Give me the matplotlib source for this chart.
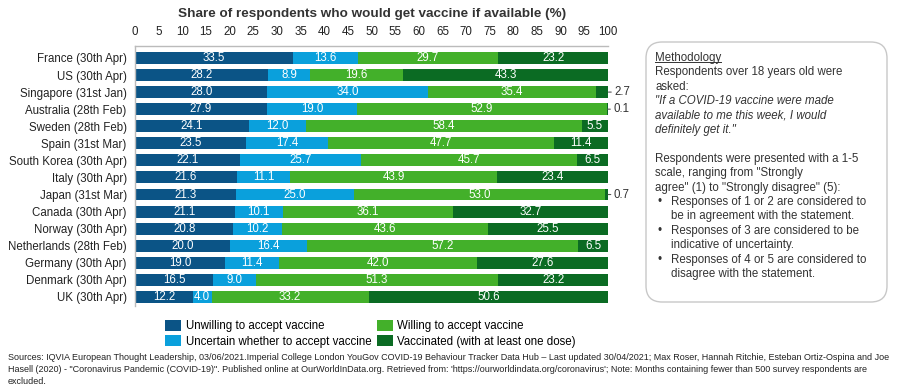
import matplotlib.pyplot as plt
from matplotlib.patches import FancyBboxPatch, Patch
from matplotlib.lines import Line2D

plt.rcParams['font.family'] = ['Liberation Sans', 'DejaVu Sans']

# ---------------------------------------------------------------------------
# data
# ---------------------------------------------------------------------------
countries = ["France (30th Apr)", "US (30th Apr)", "Singapore (31st Jan)",
             "Australia (28th Feb)", "Sweden (28th Feb)", "Spain (31st Mar)",
             "South Korea (30th Apr)", "Italy (30th Apr)", "Japan (31st Mar)",
             "Canada (30th Apr)", "Norway (30th Apr)", "Netherlands (28th Feb)",
             "Germany (30th Apr)", "Denmark (30th Apr)", "UK (30th Apr)"]
unwilling = [33.5, 28.2, 28.0, 27.9, 24.1, 23.5, 22.1, 21.6, 21.3, 21.1, 20.8, 20.0, 19.0, 16.5, 12.2]
uncertain = [13.6, 8.9, 34.0, 19.0, 12.0, 17.4, 25.7, 11.1, 25.0, 10.1, 10.2, 16.4, 11.4, 9.0, 4.0]
willing = [29.7, 19.6, 35.4, 52.9, 58.4, 47.7, 45.7, 43.9, 53.0, 36.1, 43.6, 57.2, 42.0, 51.3, 33.2]
vaccinated = [23.2, 43.3, 2.7, 0.1, 5.5, 11.4, 6.5, 23.4, 0.7, 32.7, 25.5, 6.5, 27.6, 23.2, 50.6]

series_names = ["Unwilling to accept vaccine", "Uncertain whether to accept vaccine",
                "Willing to accept vaccine", "Vaccinated (with at least one dose)"]
colors = ["#0b5486", "#0aa0dc", "#43b02a", "#0b6b23"]

title = "Share of respondents who would get vaccine if available (%)"

method_lines = [
    ("Methodology", "normal"),
    ("Respondents over 18 years old were", "normal"),
    ("asked:", "normal"),
    ('"If a COVID-19 vaccine were made', "italic"),
    ("available to me this week, I would", "italic"),
    ('definitely get it."', "italic"),
    ("", "normal"),
    ("Respondents were presented with a 1-5", "normal"),
    ('scale, ranging from "Strongly', "normal"),
    ('agree" (1) to "Strongly disagree" (5):', "normal"),
]
bullets = [
    ["Responses of 1 or 2 are considered to", "be in agreement with the statement."],
    ["Responses of 3 are considered to be", "indicative of uncertainty."],
    ["Responses of 4 or 5 are considered to", "disagree with the statement."],
]

source_lines = [
    "Sources: IQVIA European Thought Leadership, 03/06/2021.Imperial College London YouGov COVID-19 Behaviour Tracker Data Hub \u2013 Last updated 30/04/2021; Max Roser, Hannah Ritchie, Esteban Ortiz-Ospina and Joe",
    "Hasell (2020) - \"Coronavirus Pandemic (COVID-19)\". Published online at OurWorldInData.org. Retrieved from: 'https://ourworldindata.org/coronavirus'; Note: Months containing fewer than 500 survey respondents are",
    "excluded.",
]

# ---------------------------------------------------------------------------
# figure
# ---------------------------------------------------------------------------
W, H = 900, 389
fig = plt.figure(figsize=(9, 3.89), dpi=100)
ax = fig.add_axes([135 / W, 1 - 306 / H, (608 - 135) / W, (306 - 46) / H])

series = [unwilling, uncertain, willing, vaccinated]
y = list(range(len(countries)))
left = [0.0] * len(countries)
for vals, col in zip(series, colors):
    ax.barh(y, vals, left=left, height=0.7, color=col, edgecolor='none')
    for i, (v, l) in enumerate(zip(vals, left)):
        if v >= 3:
            ax.text(l + v / 2, i, f"{v:.1f}", ha='center', va='center',
                    color='white', fontsize=8.3)
        else:
            ax.annotate(f"{v:.1f}", xy=(l + v, i), xytext=(4, 0),
                        textcoords='offset points', ha='left', va='center',
                        fontsize=8.3, color='#333333',
                        arrowprops=dict(arrowstyle='-', color='#555555', lw=0.8,
                                        shrinkA=0, shrinkB=0))
    left = [a + b for a, b in zip(left, vals)]

ax.set_xlim(0, 100)
ax.set_ylim(14.53, -0.70)
ax.set_xticks(range(0, 101, 5))
ax.xaxis.tick_top()
ax.tick_params(axis='x', length=0, labelsize=8.3, labelcolor='#222222', pad=6)
ax.set_yticks(y)
ax.set_yticklabels(countries)
ax.tick_params(axis='y', length=0, labelsize=8.3, labelcolor='#222222', pad=6)
for s in ['right', 'bottom']:
    ax.spines[s].set_visible(False)
for s in ['top', 'left']:
    ax.spines[s].set_color('#bbbbbb')
    ax.spines[s].set_linewidth(1.0)

fig.text(372 / W, 1 - 14 / H, title, ha='center', va='center',
         fontsize=9.7, fontweight='bold', color='#333333')

# legend
handles = [Patch(facecolor=c, edgecolor='none') for c in colors]
fig.legend(handles, series_names, ncol=2, loc='upper left',
           bbox_to_anchor=(165 / W, 1 - 320 / H), frameon=False,
           fontsize=8.3, handlelength=1.4, handleheight=1.1,
           handletextpad=0.4, columnspacing=0.45, labelspacing=0.25,
           borderaxespad=0, borderpad=0)

# methodology box
box = FancyBboxPatch((646 / W, 1 - 302 / H), (887 - 646) / W, (302 - 42) / H,
                     boxstyle="round,pad=0,rounding_size=0.018",
                     transform=fig.transFigure, facecolor='white',
                     edgecolor='#c8c8c8', lw=1.0, mutation_aspect=W / H)
fig.patches.append(box)

x0 = 655 / W
step = 14.4
ypix = 58
txts = []
for line, style in method_lines:
    t = fig.text(x0, 1 - ypix / H, line, ha='left', va='center', fontsize=8.3,
                 style=style, color='#333333')
    txts.append(t)
    ypix += step
for b in bullets:
    fig.text(x0 + 2 / W, 1 - ypix / H, "\u2022", ha='left', va='center',
             fontsize=8.3, color='#333333')
    for line in b:
        fig.text(x0 + 16 / W, 1 - ypix / H, line, ha='left', va='center',
                 fontsize=8.3, color='#333333')
        ypix += step

# underline "Methodology"
fig.canvas.draw()
bb = txts[0].get_window_extent()
fig.add_artist(Line2D([bb.x0 / W, bb.x1 / W], [(bb.y0 + 2.2) / H] * 2,
                      transform=fig.transFigure, color='#333333', lw=0.7))

# sources
sy = 357
for line in source_lines:
    fig.text(8 / W, 1 - sy / H, line, ha='left', va='center', fontsize=6.5,
             color='#222222')
    sy += 12

fig.savefig('out.png', dpi=100)
